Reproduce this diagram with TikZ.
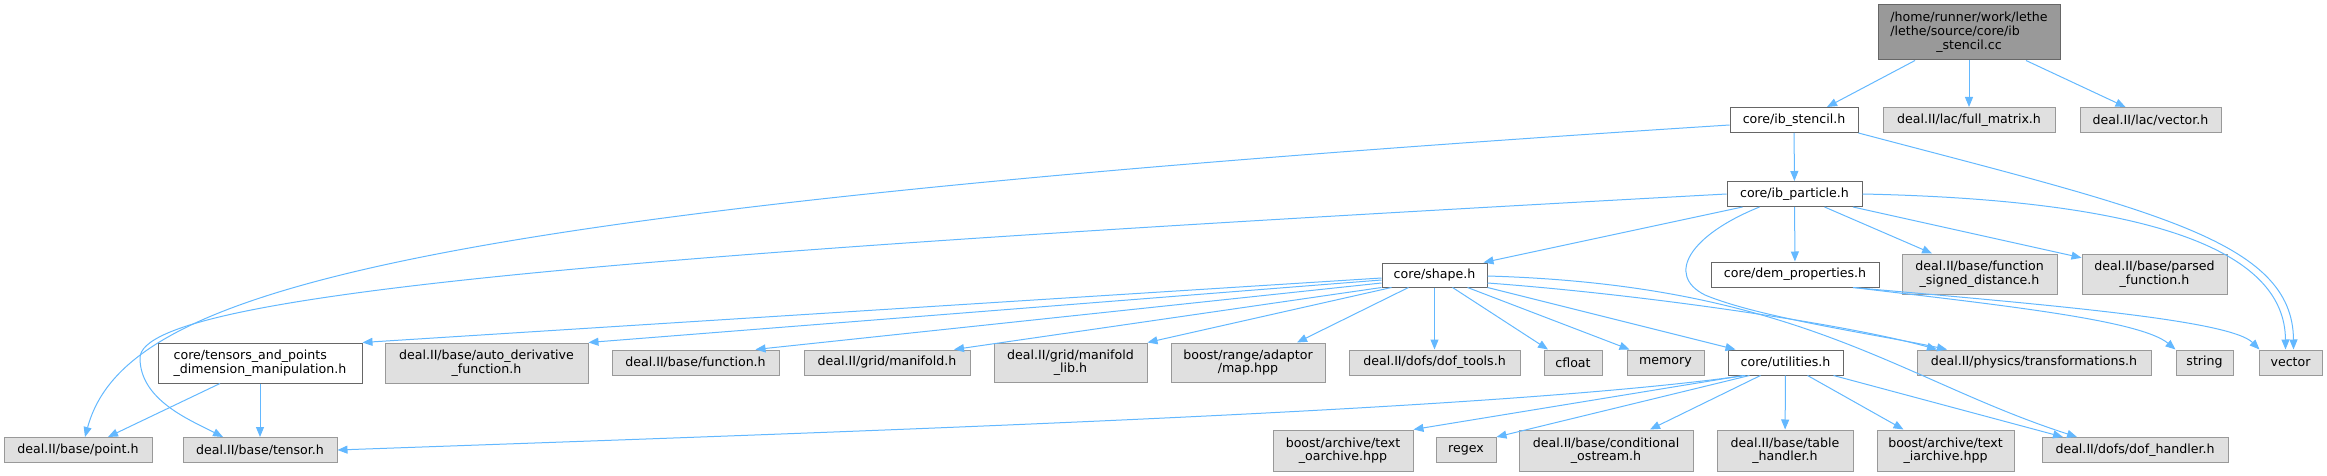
\documentclass[tikz,border=0pt]{standalone}
\usepackage{fontspec}
\setmainfont{DejaVu Sans}
\usetikzlibrary{arrows.meta}
\definecolor{edgeblue}{HTML}{63B8FF}
\definecolor{rootfill}{HTML}{999999}
\definecolor{extfill}{HTML}{E0E0E0}
\definecolor{extline}{HTML}{999999}
\definecolor{fileline}{HTML}{666666}
\tikzset{
  hdr/.style={draw=fileline, line width=1pt, fill=white, inner sep=0pt,
    font=\fontsize{12.6}{13.4}\selectfont, minimum height=25pt},
  ext/.style={hdr, draw=extline, fill=extfill},
  rootfile/.style={hdr, fill=rootfill},
  inc/.style={draw=edgeblue, line width=1pt, -{Triangle[length=10pt,width=8pt]}},
}

\begin{document}
\begin{tikzpicture}[x=1pt,y=-1pt]
    \useasboundingbox (0,0) rectangle (2327,476);
    % Top: the source file
    \node[rootfile, minimum width=182pt, minimum height=55pt, align=center] (root) at (1969,32.5)
      {\begin{tabular}{@{}l@{}}/home/runner/work/lethe\\/lethe/source/core/ib\end{tabular}\\\_stencil.cc};
    % Row 1
    \node[hdr, minimum width=128pt] (ibs) at (1794,120) {core/ib\_stencil.h};
    \node[ext, minimum width=172pt] (fullmat) at (1969,120) {deal.II/lac/full\_matrix.h};
    \node[ext, minimum width=141pt] (lacvec) at (2150.5,120) {deal.II/lac/vector.h};
    % Row 2
    \node[hdr, minimum width=135pt] (ibp) at (1794.5,194) {core/ib\_particle.h};
    % Row 3
    \node[hdr, minimum width=105pt, minimum height=24pt] (shape) at (1434.5,275) {core/shape.h};
    \node[hdr, minimum width=168pt] (dem) at (1795,274.5) {core/dem\_properties.h};
    \node[ext, minimum width=155pt, minimum height=40pt, align=center] (fsd) at (1979.5,274)
      {deal.II/base/function\\\_signed\_distance.h};
    \node[ext, minimum width=145pt, minimum height=40pt, align=center] (parsed) at (2154.5,274)
      {deal.II/base/parsed\\\_function.h};
    % Row 4
    \node[hdr, minimum width=204pt, minimum height=40pt, align=left] (tap) at (260,363)
      {core/tensors\_and\_points\\\_dimension\_manipulation.h};
    \node[ext, minimum width=203pt, minimum height=40pt, align=center] (auto) at (486.5,363)
      {deal.II/base/auto\_derivative\\\_function.h};
    \node[ext, minimum width=167pt] (func) at (695.5,362.5) {deal.II/base/function.h};
    \node[ext, minimum width=166pt] (manif) at (887,362.5) {deal.II/grid/manifold.h};
    \node[ext, minimum width=153pt, minimum height=39pt, align=center] (mlib) at (1070.5,362.5)
      {deal.II/grid/manifold\\\_lib.h};
    \node[ext, minimum width=154pt, minimum height=39pt, align=center] (map) at (1248,362.5)
      {boost/range/adaptor\\/map.hpp};
    \node[ext, minimum width=171pt] (doft) at (1434.5,362.5) {deal.II/dofs/dof\_tools.h};
    \node[ext, minimum width=58pt] (cfloat) at (1573,362.5) {cfloat};
    \node[ext, minimum width=77pt] (mem) at (1665.5,362.5) {memory};
    \node[hdr, minimum width=115pt] (util) at (1785.5,362.5) {core/utilities.h};
    \node[ext, minimum width=234pt] (trans) at (2034,362.5) {deal.II/physics/transformations.h};
    \node[ext, minimum width=57pt] (string) at (2204.5,362.5) {string};
    \node[ext, minimum width=63pt] (vector) at (2290.5,362.5) {vector};
    % Bottom row
    \node[ext, minimum width=148pt] (point) at (78,450) {deal.II/base/point.h};
    \node[ext, minimum width=154pt] (tensor) at (260,450) {deal.II/base/tensor.h};
    \node[ext, minimum width=140pt, minimum height=41pt, align=center] (oarch) at (1343,450.5)
      {boost/archive/text\\\_oarchive.hpp};
    \node[ext, minimum width=60pt] (regex) at (1466,450) {regex};
    \node[ext, minimum width=174pt, minimum height=41pt, align=center] (cond) at (1606,450.5)
      {deal.II/base/conditional\\\_ostream.h};
    \node[ext, minimum width=136pt, minimum height=41pt, align=center] (table) at (1785,450.5)
      {deal.II/base/table\\\_handler.h};
    \node[ext, minimum width=137pt, minimum height=41pt, align=center] (iarch) at (1945.5,450.5)
      {boost/archive/text\\\_iarchive.hpp};
    \node[ext, minimum width=186pt] (dofh) at (2135,450) {deal.II/dofs/dof\_handler.h};
    % Edges from the source file
    \draw[inc] ([xshift=-54pt]root.south) -- ([xshift=33pt]ibs.north);
    \draw[inc] (root) -- (fullmat);
    \draw[inc] ([xshift=57pt]root.south) -- ([xshift=-25pt]lacvec.north);
    % ib_stencil.h
    \draw[inc] (ibs) -- (ibp);
    \draw[inc] ([yshift=-5pt]ibs.west) .. controls (400,210) and (125,290) .. ([xshift=7pt]point.north);
    \draw[inc] (ibs.south east) .. controls (2150,210) and (2293,240) .. ([xshift=3pt]vector.north);
    % ib_particle.h
    \draw[inc] ([xshift=-52pt]ibp.south) -- ([xshift=-4pt]shape.north east);
    \draw[inc] (ibp) -- (dem);
    \draw[inc] (ibp) -- (fsd);
    \draw[inc] (ibp) -- (parsed);
    \draw[inc] (ibp.west) .. controls (700,250) and (140,290) .. (140,358)
      .. controls (140,400) and (190,420) .. ([xshift=-37pt]tensor.north);
    \draw[inc] ([xshift=-35pt]ibp.south) .. controls (1690,235) and (1665,275) .. (1705,295)
      .. controls (1760,318) and (1880,335) .. ([xshift=-87pt]trans.north);
    \draw[inc] (ibp.east) .. controls (2150,200) and (2285,250) .. ([xshift=-5pt]vector.north);
    % shape.h
    \draw[inc] ([yshift=-3pt]shape.west) -- (tap.north east);
    \draw[inc] ([yshift=-5pt]shape.west) -- (auto.north east);
    \draw[inc] ([yshift=-8pt]shape.west) -- ([xshift=60pt]func.north);
    \draw[inc] (shape.south west) -- ([xshift=67pt]manif.north);
    \draw[inc] ([xshift=10pt]shape.south west) -- (mlib.north east);
    \draw[inc] ([xshift=-26pt]shape.south) -- ([xshift=49pt]map.north);
    \draw[inc] (shape) -- (doft);
    \draw[inc] ([xshift=18pt]shape.south) -- ([xshift=-25pt]cfloat.north);
    \draw[inc] ([xshift=33pt]shape.south) -- ([xshift=-36pt]mem.north);
    \draw[inc] (shape.south east) -- ([xshift=-50pt]util.north);
    \draw[inc] ([yshift=-8pt]shape.east) .. controls (1650,295) and (1850,325) .. ([xshift=-97pt]trans.north);
    \draw[inc] ([yshift=-1pt]shape.east) .. controls (1800,285) and (1900,380) .. ([xshift=-58pt]dofh.north);
    % dem_properties.h
    \draw[inc] ([xshift=58pt]dem.south) .. controls (2000,305) and (2140,320) .. ([xshift=-29pt]string.north);
    \draw[inc] ([xshift=58pt]dem.south) .. controls (2050,305) and (2230,320) .. ([xshift=-31pt]vector.north);
    % tensors_and_points
    \draw[inc] ([xshift=-40pt]tap.south) -- ([xshift=30pt]point.north);
    \draw[inc] (tap) -- (tensor);
    % utilities.h
    \draw[inc] ([xshift=-40pt]util.south) .. controls (1500,410) and (900,430) .. (tensor.east);
    \draw[inc] ([xshift=-42pt]util.south) -- (oarch.north east);
    \draw[inc] ([xshift=-36pt]util.south) -- (regex.north east);
    \draw[inc] ([xshift=-25pt]util.south) -- ([xshift=44pt]cond.north);
    \draw[inc] (util) -- (table);
    \draw[inc] ([xshift=22pt]util.south) -- ([xshift=-42pt]iarch.north);
    \draw[inc] ([xshift=-10pt]util.south east) -- ([xshift=-72pt]dofh.north);
\end{tikzpicture}
\end{document}
